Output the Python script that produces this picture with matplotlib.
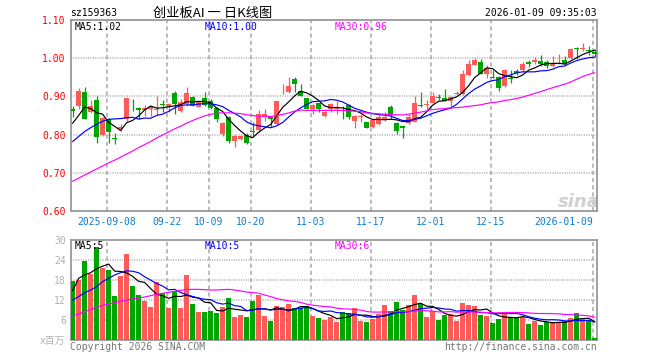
import matplotlib
matplotlib.use("Agg")
import matplotlib.pyplot as plt
import numpy as np
import pandas as pd

plt.rcParams['font.family'] = ['DejaVu Sans Mono', 'Noto Sans CJK SC']
plt.rcParams['lines.scale_dashes'] = False

# trading days shown (Aug 29 2025 .. Jan 9 2026, exchange holidays removed)
holidays = ['2025-10-01', '2025-10-02', '2025-10-03', '2025-10-06', '2025-10-07',
            '2025-10-08', '2026-01-01', '2026-01-02']
days = pd.bdate_range('2025-08-29', '2026-01-09')
days = days[~days.isin(pd.to_datetime(holidays))]

tick_dates = ['2025-09-08', '2025-09-22', '2025-10-09', '2025-10-20', '2025-11-03',
              '2025-11-17', '2025-12-01', '2025-12-15', '2026-01-09']
tick_labels = ['2025-09-08', '09-22', '10-09', '10-20', '11-03',
               '11-17', '12-01', '12-15', '2026-01-09']

# daily candles
open_ = [0.867, 0.874, 0.912, 0.858, 0.890, 0.799, 0.842, 0.791, 0.814, 0.840,
         0.876, 0.869, 0.865, 0.866, 0.865, 0.879, 0.876, 0.908, 0.862, 0.880,
         0.898, 0.873, 0.895, 0.887, 0.869, 0.801, 0.847, 0.783, 0.788, 0.799,
         0.810, 0.812, 0.845, 0.845, 0.827, 0.916, 0.911, 0.946, 0.915, 0.895,
         0.867, 0.882, 0.849, 0.867, 0.866, 0.873, 0.877, 0.836, 0.846, 0.832,
         0.821, 0.827, 0.840, 0.871, 0.830, 0.823, 0.830, 0.833, 0.877, 0.878,
         0.884, 0.898, 0.897, 0.889, 0.906, 0.906, 0.956, 0.982, 0.989, 0.959,
         0.951, 0.950, 0.926, 0.949, 0.967, 0.968, 0.989, 0.989, 0.993, 0.989,
         0.980, 0.985, 0.995, 1.000, 1.026, 1.025, 1.021, 1.016]
high = [0.875, 0.921, 0.924, 0.890, 0.902, 0.845, 0.843, 0.805, 0.827, 0.897,
        0.893, 0.871, 0.877, 0.875, 0.900, 0.891, 0.884, 0.915, 0.893, 0.924,
        0.900, 0.889, 0.911, 0.893, 0.871, 0.832, 0.848, 0.799, 0.800, 0.803,
        0.832, 0.864, 0.867, 0.847, 0.889, 0.932, 0.950, 0.950, 0.932, 0.897,
        0.880, 0.884, 0.862, 0.884, 0.889, 0.876, 0.880, 0.851, 0.854, 0.833,
        0.840, 0.851, 0.858, 0.877, 0.832, 0.825, 0.854, 0.902, 0.912, 0.891,
        0.912, 0.906, 0.919, 0.902, 0.915, 0.968, 0.994, 1.001, 0.999, 0.981,
        0.968, 0.954, 0.972, 0.970, 0.972, 0.991, 0.994, 1.003, 1.009, 0.994,
        1.007, 1.011, 1.007, 1.026, 1.029, 1.040, 1.033, 1.025]
low = [0.845, 0.867, 0.840, 0.856, 0.779, 0.797, 0.777, 0.775, 0.810, 0.836,
       0.862, 0.840, 0.849, 0.850, 0.851, 0.858, 0.858, 0.854, 0.858, 0.875,
       0.874, 0.871, 0.875, 0.868, 0.832, 0.797, 0.779, 0.768, 0.787, 0.775,
       0.797, 0.808, 0.836, 0.821, 0.825, 0.906, 0.908, 0.911, 0.900, 0.867,
       0.854, 0.858, 0.845, 0.858, 0.855, 0.840, 0.840, 0.818, 0.833, 0.816,
       0.818, 0.825, 0.836, 0.840, 0.801, 0.792, 0.829, 0.832, 0.873, 0.867,
       0.882, 0.891, 0.889, 0.868, 0.903, 0.904, 0.954, 0.981, 0.959, 0.947,
       0.947, 0.915, 0.924, 0.935, 0.955, 0.963, 0.976, 0.985, 0.979, 0.975,
       0.978, 0.984, 0.983, 0.998, 0.999, 1.018, 1.009, 1.003]
close = [0.863, 0.913, 0.842, 0.875, 0.794, 0.843, 0.807, 0.789, 0.821, 0.895,
         0.874, 0.865, 0.869, 0.871, 0.868, 0.877, 0.880, 0.880, 0.886, 0.908,
         0.875, 0.886, 0.878, 0.869, 0.840, 0.830, 0.783, 0.797, 0.797, 0.777,
         0.806, 0.854, 0.853, 0.842, 0.889, 0.918, 0.926, 0.932, 0.902, 0.868,
         0.877, 0.868, 0.860, 0.880, 0.870, 0.871, 0.845, 0.849, 0.848, 0.818,
         0.838, 0.845, 0.846, 0.854, 0.810, 0.816, 0.845, 0.882, 0.875, 0.881,
         0.902, 0.896, 0.889, 0.899, 0.908, 0.959, 0.985, 0.996, 0.959, 0.974,
         0.949, 0.921, 0.968, 0.946, 0.960, 0.985, 0.985, 0.996, 0.985, 0.980,
         0.985, 0.988, 0.985, 1.025, 1.023, 1.027, 1.019, 1.011]

# volume, millions
volume = [17.7, 18.0, 23.7, 19.8, 27.8, 21.5, 21.0, 13.2, 19.2, 25.8,
          16.2, 13.5, 11.7, 9.9, 17.3, 14.0, 9.6, 14.7, 9.6, 19.5,
          10.8, 8.4, 8.4, 8.7, 8.1, 9.9, 12.6, 6.9, 7.5, 6.9,
          11.7, 13.5, 7.2, 5.7, 10.2, 9.9, 10.8, 9.6, 9.6, 10.2,
          7.2, 6.6, 6.0, 6.9, 5.4, 8.4, 8.0, 9.6, 5.8, 5.5,
          6.3, 7.8, 10.5, 8.7, 11.4, 9.0, 10.5, 13.5, 10.8, 6.9,
          8.7, 6.0, 7.5, 7.8, 5.8, 11.1, 10.5, 10.2, 7.5, 7.2,
          5.1, 6.3, 8.4, 6.9, 6.6, 6.9, 4.8, 5.7, 4.5, 5.4,
          5.4, 5.4, 5.7, 6.6, 8.1, 6.3, 6.0, 0.6]

# moving average values before the window fills
ma5_head = [0.830, 0.850, 0.872, 0.868]
ma10_head = [0.782, 0.795, 0.808, 0.818, 0.827, 0.835, 0.840, 0.841, 0.842]
ma30_head = [0.678, 0.686, 0.694, 0.702, 0.710, 0.718, 0.726, 0.733, 0.741, 0.749,
             0.757, 0.766, 0.774, 0.782, 0.791, 0.799, 0.807, 0.815, 0.822, 0.830,
             0.837, 0.843, 0.849, 0.853, 0.856, 0.857, 0.857, 0.856, 0.855]
vma5_head = [14.8, 18.5, 19.5, 20.2]
vma10_head = [12.0, 13.0, 14.2, 15.0, 16.0, 17.5, 18.5, 19.5, 20.2]
vma30_head = [7.2, 7.8, 8.5, 9.1, 9.8, 10.4, 10.8, 11.2, 11.6, 12.0,
              12.3, 12.6, 12.9, 13.3, 13.7, 14.0, 14.3, 14.6, 14.9, 15.1,
              15.2, 15.2, 15.1, 15.0, 15.0, 15.1, 15.2, 15.0, 14.7]


def moving(values, n, head):
    full = pd.Series(values).rolling(n).mean().to_numpy()
    return np.r_[head, full[n - 1:]]


RED = '#ff5a5a'
GREEN = '#00a600'
GRID = '#aaaaaa'
BLUE_TXT = '#0b7bd0'

x = np.arange(len(days))
o = np.array(open_); c = np.array(close); h = np.array(high); l = np.array(low)
up = c >= o
colors = np.where(up, RED, GREEN)

fig = plt.figure(figsize=(6.6, 3.6), dpi=100)
W, H = 660.0, 360.0
ax = fig.add_axes([70.7 / W, 1 - 211 / H, (597.3 - 70.7) / W, (211 - 20) / H])
axv = fig.add_axes([70.7 / W, 1 - 340 / H, (597.3 - 70.7) / W, 100 / H])

tick_pos = np.array([days.get_loc(pd.Timestamp(d)) for d in tick_dates]) - 0.325

for a in (ax, axv):
    a.set_xlim(-0.325, len(days) - 0.56)
    for p in tick_pos:
        a.axvline(p, color=GRID, lw=1.1, ls=(0, (3, 2.2)), zorder=0)
    for s in a.spines.values():
        s.set_color('#999999')
        s.set_linewidth(1.3)
    a.set_xticks([])
    a.tick_params(axis='y', length=0, pad=3.5, labelsize=7)

# price panel
ax.set_ylim(0.60, 1.10)
for v in [0.7, 0.8, 0.9, 1.0]:
    ax.axhline(v, color=GRID, lw=1.1, ls=(0, (0.75, 1.0)), zorder=0)
ax.set_yticks([0.6, 0.7, 0.8, 0.9, 1.0, 1.1])
ax.set_yticklabels(['0.60', '0.70', '0.80', '0.90', '1.00', '1.10'], color='#ff0000')

ax.vlines(x, l, h, colors=colors, lw=0.9, zorder=2)
body = np.maximum(np.abs(c - o), 0.0018)
ax.bar(x, body, bottom=np.minimum(o, c), width=0.86, color=colors, zorder=3)

ax.plot(x, moving(close, 5, ma5_head), color='black', lw=0.85, zorder=4)
ax.plot(x, moving(close, 10, ma10_head), color='#0000ff', lw=0.85, zorder=4)
ax.plot(x, moving(close, 30, ma30_head), color='#ff00ff', lw=0.85, zorder=4)

# volume panel
axv.set_ylim(0, 30)
for v in [6, 12, 18, 24]:
    axv.axhline(v, color=GRID, lw=1.1, ls=(0, (0.75, 1.0)), zorder=0)
axv.set_yticks([6, 12, 18, 24, 30])
axv.set_yticklabels(['6', '12', '18', '24', '30'], color='#b0b0b0')
axv.bar(x, volume, width=0.86, color=colors, zorder=3)
axv.plot(x, moving(volume, 5, vma5_head), color='black', lw=0.85, zorder=4)
axv.plot(x, moving(volume, 10, vma10_head), color='#0000ff', lw=0.85, zorder=4)
axv.plot(x, moving(volume, 30, vma30_head), color='#ff00ff', lw=0.85, zorder=4)

# date labels
for i, (p, t) in enumerate(zip(tick_pos, tick_labels)):
    ha = 'right' if i == len(tick_labels) - 1 else 'center'
    ax.text(p, -0.055, t, transform=ax.get_xaxis_transform(), ha=ha, va='center',
            fontsize=7, color=BLUE_TXT)

# header texts
fig.text(70 / W, 1 - 13.5 / H, 'sz159363', fontsize=7, va='center', ha='left')
fig.text(213 / W, 1 - 13.5 / H, '创业板AI 一 日K线图', fontsize=9.5, va='center',
         ha='center', family=['Noto Sans CJK SC', 'DejaVu Sans'])
fig.text(597 / W, 1 - 13.5 / H, '2026-01-09 09:35:03', fontsize=7, va='center', ha='right')

fig.text(75 / W, 1 - 27 / H, 'MA5:1.02', fontsize=7, va='center', color='black')
fig.text(205 / W, 1 - 27 / H, 'MA10:1.00', fontsize=7, va='center', color='#0000ff')
fig.text(335 / W, 1 - 27 / H, 'MA30:0.96', fontsize=7, va='center', color='#ff00ff')
fig.text(75 / W, 1 - 246 / H, 'MA5:5', fontsize=7, va='center', color='black')
fig.text(205 / W, 1 - 246 / H, 'MA10:5', fontsize=7, va='center', color='#0000ff')
fig.text(335 / W, 1 - 246 / H, 'MA30:6', fontsize=7, va='center', color='#ff00ff')

fig.text(65.5 / W, 1 - 341 / H, 'x百万', fontsize=7, va='center', ha='right', color='#b0b0b0')
fig.text(70 / W, 1 - 347 / H, 'Copyright 2026 SINA.COM', fontsize=7, va='center', color='#777777')
fig.text(597 / W, 1 - 347 / H, 'http://finance.sina.com.cn', fontsize=7, va='center',
         ha='right', color='#777777')

ax.text(1.005, 0.0, 'sina', transform=ax.transAxes, ha='right', va='bottom', fontsize=13,
        fontweight='bold', style='italic', color='#d0d0d0', family='DejaVu Sans',
        zorder=1, clip_on=True)

fig.savefig('out.png', dpi=100, facecolor='white')
